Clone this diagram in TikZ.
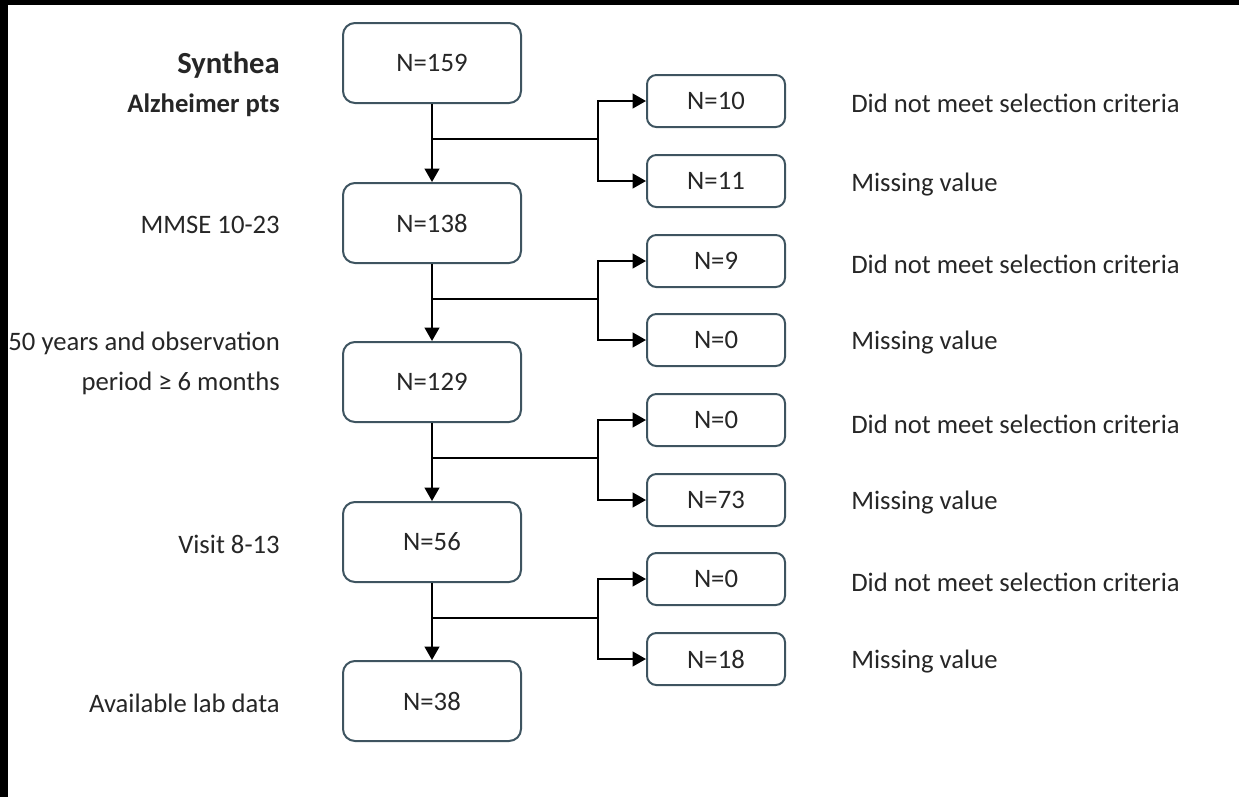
\documentclass[tikz,border=0pt]{standalone}
\usepackage{fontspec}
\setmainfont{Carlito}
\usetikzlibrary{arrows.meta}

\definecolor{boxline}{RGB}{62,84,96}
\definecolor{txt}{RGB}{38,38,38}

\tikzset{
  mainbox/.style={draw=boxline, line width=1.5pt, rounded corners=9pt, minimum width=133.5pt, minimum height=60pt, inner sep=0pt, font=\fontsize{20}{24}\selectfont, text=txt},
  sidebox/.style={draw=boxline, line width=1.5pt, rounded corners=7pt, minimum width=103.5pt, minimum height=39pt, inner sep=0pt, font=\fontsize{20}{24}\selectfont, text=txt},
  lefttext/.style={anchor=east, inner sep=0pt, font=\fontsize{20}{24}\selectfont, text=txt, align=right},
  righttext/.style={anchor=west, inner sep=0pt, font=\fontsize{20}{24}\selectfont, text=txt},
  flow/.style={line width=1.5pt, black},
  flowarrow/.style={flow, -{Triangle[length=10pt,width=11pt]}}
}

\begin{document}
\begin{tikzpicture}[x=0.75pt,y=0.75pt,yscale=-1,xscale=1]
\useasboundingbox (0,0) rectangle (1239,797);
% frame edges
\fill[black] (0,0) rectangle (1239,5);
\fill[black] (0,0) rectangle (8,797);

% Main boxes
\node[mainbox] (m1) at (432,63) {N=159};
\node[mainbox] (m2) at (432,223) {N=138};
\node[mainbox] (m3) at (432,382) {N=129};
\node[mainbox] (m4) at (432,542) {N=56};
\node[mainbox] (m5) at (432,701) {N=38};

% Side boxes
\node[sidebox] (s1a) at (716,101) {N=10};
\node[sidebox] (s1b) at (716,181) {N=11};
\node[sidebox] (s2a) at (716,261) {N=9};
\node[sidebox] (s2b) at (716,340) {N=0};
\node[sidebox] (s3a) at (716,420) {N=0};
\node[sidebox] (s3b) at (716,500) {N=73};
\node[sidebox] (s4a) at (716,579) {N=0};
\node[sidebox] (s4b) at (716,659) {N=18};

% Branch points
\coordinate (j1) at (598,139);
\coordinate (j2) at (598,299);
\coordinate (j3) at (598,458);
\coordinate (j4) at (598,618);

% Down arrows
\draw[flowarrow] (m1) -- (m2);
\draw[flowarrow] (m2) -- (m3);
\draw[flowarrow] (m3) -- (m4);
\draw[flowarrow] (m4) -- (m5);

% Exclusion branches
\draw[flow] (m1.south |- j1) -- (j1);
\draw[flowarrow] (j1) |- (s1a);
\draw[flowarrow] (j1) |- (s1b);
\draw[flow] (m2.south |- j2) -- (j2);
\draw[flowarrow] (j2) |- (s2a);
\draw[flowarrow] (j2) |- (s2b);
\draw[flow] (m3.south |- j3) -- (j3);
\draw[flowarrow] (j3) |- (s3a);
\draw[flowarrow] (j3) |- (s3b);
\draw[flow] (m4.south |- j4) -- (j4);
\draw[flowarrow] (j4) |- (s4a);
\draw[flowarrow] (j4) |- (s4b);

% Left labels
\node[lefttext, font=\fontsize{23}{27}\selectfont\bfseries] (l1a) at (280,65) {Synthea};
\node[lefttext, font=\fontsize{20}{24}\selectfont\bfseries] (l1b) at (280,105) {Alzheimer pts};
\node[lefttext] (l2) at (280,225) {MMSE 10-23};
\node[lefttext] (l3a) at (280,343) {50 years and observation};
\node[lefttext] (l3b) at (280,383) {period ≥ 6 months};
\node[lefttext] (l4) at (280,544) {Visit 8-13};
\node[lefttext] (l5) at (280,703) {Available lab data};

% Right labels
\node[righttext] (r1a) at (851,103) {Did not meet selection criteria};
\node[righttext] (r1b) at (851,185) {Missing value};
\node[righttext] (r2a) at (851,264) {Did not meet selection criteria};
\node[righttext] (r2b) at (851,343) {Missing value};
\node[righttext] (r3a) at (851,424) {Did not meet selection criteria};
\node[righttext] (r3b) at (851,503) {Missing value};
\node[righttext] (r4a) at (851,582) {Did not meet selection criteria};
\node[righttext] (r4b) at (851,662) {Missing value};

\end{tikzpicture}
\end{document}
